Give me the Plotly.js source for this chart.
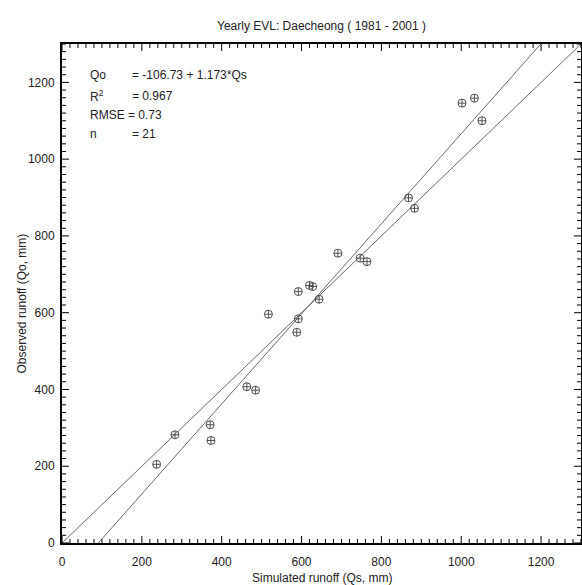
<!DOCTYPE html>
<html>
<head>
<meta charset="utf-8">
<script src="https://cdn.plot.ly/plotly-3.0.1.min.js"></script>
<style>html,body{margin:0;padding:0;background:#fff;}#chart{width:582px;height:585px;}</style>
</head>
<body>
<div id="chart"></div>
<script>
// Simulated (Qs) and observed (Qo) yearly runoff, mm
const simulated = [237, 283, 371, 373, 463, 485, 517, 588, 592, 592, 620, 628, 644, 691, 747, 764, 868, 883, 1002, 1033, 1052];
const observed  = [205, 282, 308, 267, 407, 398, 596, 549, 584, 655, 671, 668, 635, 755, 742, 733, 899, 872, 1146, 1159, 1100];
// Regression: Qo = a + b*Qs
const intercept = -106.73;
const slope = 1.173;
const axisMax = 1300;
const majorStep = 200;
const minorStep = 20;
const statLabels = ["Qo", "R<sup>2</sup>", "n"];
const statValues = ["= -106.73 + 1.173*Qs", "= 0.967", "= 21"];
const statRows = [0.938, 0.896, 0.82];
const rmseText = "RMSE = 0.73";

const FONT = 'Liberation Sans, Arial, sans-serif';
const W = 582, H = 585;
const M = {l: 62, r: 1, t: 44, b: 42};
const plotW = W - M.l - M.r, plotH = H - M.t - M.b;

const xStart = -intercept / slope;
const xEnd = (axisMax - intercept) / slope;
const oneToOne = {x: [0, axisMax], y: [0, axisMax], mode: 'lines', line: {color: '#6a6a6a', width: 1}};
const fit = {x: [xStart, xEnd], y: [intercept + slope * xStart, intercept + slope * xEnd], mode: 'lines', line: {color: '#6a6a6a', width: 1}};
const pts = {x: simulated, y: observed, mode: 'markers', marker: {symbol: 'circle-cross-open', size: 8, color: '#505050', line: {width: 1}}};

const annotations = [];
const mkFont = () => ({family: FONT, size: 12, color: '#222'});
statLabels.forEach((t, i) => {
  annotations.push({xref: 'paper', yref: 'paper', x: 0.05, y: statRows[i], xanchor: 'left', yanchor: 'middle', text: t, showarrow: false, font: mkFont()});
  annotations.push({xref: 'paper', yref: 'paper', x: 0.131, y: statRows[i], xanchor: 'left', yanchor: 'middle', text: statValues[i], showarrow: false, font: mkFont()});
});
annotations.push({xref: 'paper', yref: 'paper', x: 0.05, y: 0.858, xanchor: 'left', yanchor: 'middle', text: rmseText, showarrow: false, font: mkFont()});
annotations.push({xref: 'paper', yref: 'paper', x: 0.5, y: -35/plotH, xanchor: 'center', yanchor: 'middle', text: 'Simulated runoff (Qs, mm)', showarrow: false, font: mkFont()});
annotations.push({xref: 'paper', yref: 'paper', x: -40/plotW, y: 0.48, xanchor: 'center', yanchor: 'middle', textangle: -90, text: 'Observed runoff (Qo, mm)', showarrow: false, font: mkFont()});

// Inward tick marks on all four sides, placed through the axis scales
const shapes = [];
const tickLine = {color: '#000', width: 1};
for (let v = 0; v <= axisMax; v += minorStep) {
  const major = v % majorStep === 0;
  const lx = (major ? 7 : 4) / plotH;   // length in paper units (vertical)
  const ly = (major ? 7 : 4) / plotW;   // length in paper units (horizontal)
  shapes.push({type: 'line', xref: 'x', yref: 'paper', x0: v, x1: v, y0: 0, y1: lx, line: tickLine, layer: 'above'});
  shapes.push({type: 'line', xref: 'x', yref: 'paper', x0: v, x1: v, y0: 1, y1: 1 - lx, line: tickLine, layer: 'above'});
  shapes.push({type: 'line', xref: 'paper', yref: 'y', x0: 0, x1: ly, y0: v, y1: v, line: tickLine, layer: 'above'});
  shapes.push({type: 'line', xref: 'paper', yref: 'y', x0: 1, x1: 1 - ly, y0: v, y1: v, line: tickLine, layer: 'above'});
}

const mkAxis = () => ({
  range: [0, axisMax], dtick: majorStep, tick0: 0, ticks: '',
  showline: true, linecolor: '#000', linewidth: 2, mirror: true, showgrid: false, zeroline: false,
  tickfont: mkFont()
});
const xaxis = mkAxis(); xaxis.ticklabelstandoff = 7;
const yaxis = mkAxis(); yaxis.ticklabelstandoff = 3;

const layout = {
  width: W, height: H,
  margin: {l: M.l, r: M.r, t: M.t, b: M.b, pad: 0},
  paper_bgcolor: '#fff', plot_bgcolor: '#fff', showlegend: false,
  title: {text: 'Yearly EVL: Daecheong ( 1981 - 2001 )', x: 0.5, xref: 'paper', y: 1 - 26/H, yref: 'container', yanchor: 'middle', font: mkFont()},
  xaxis, yaxis, annotations, shapes
};

Plotly.newPlot('chart', [oneToOne, fit, pts], layout, {displayModeBar: false, staticPlot: true});
</script>
</body>
</html>
